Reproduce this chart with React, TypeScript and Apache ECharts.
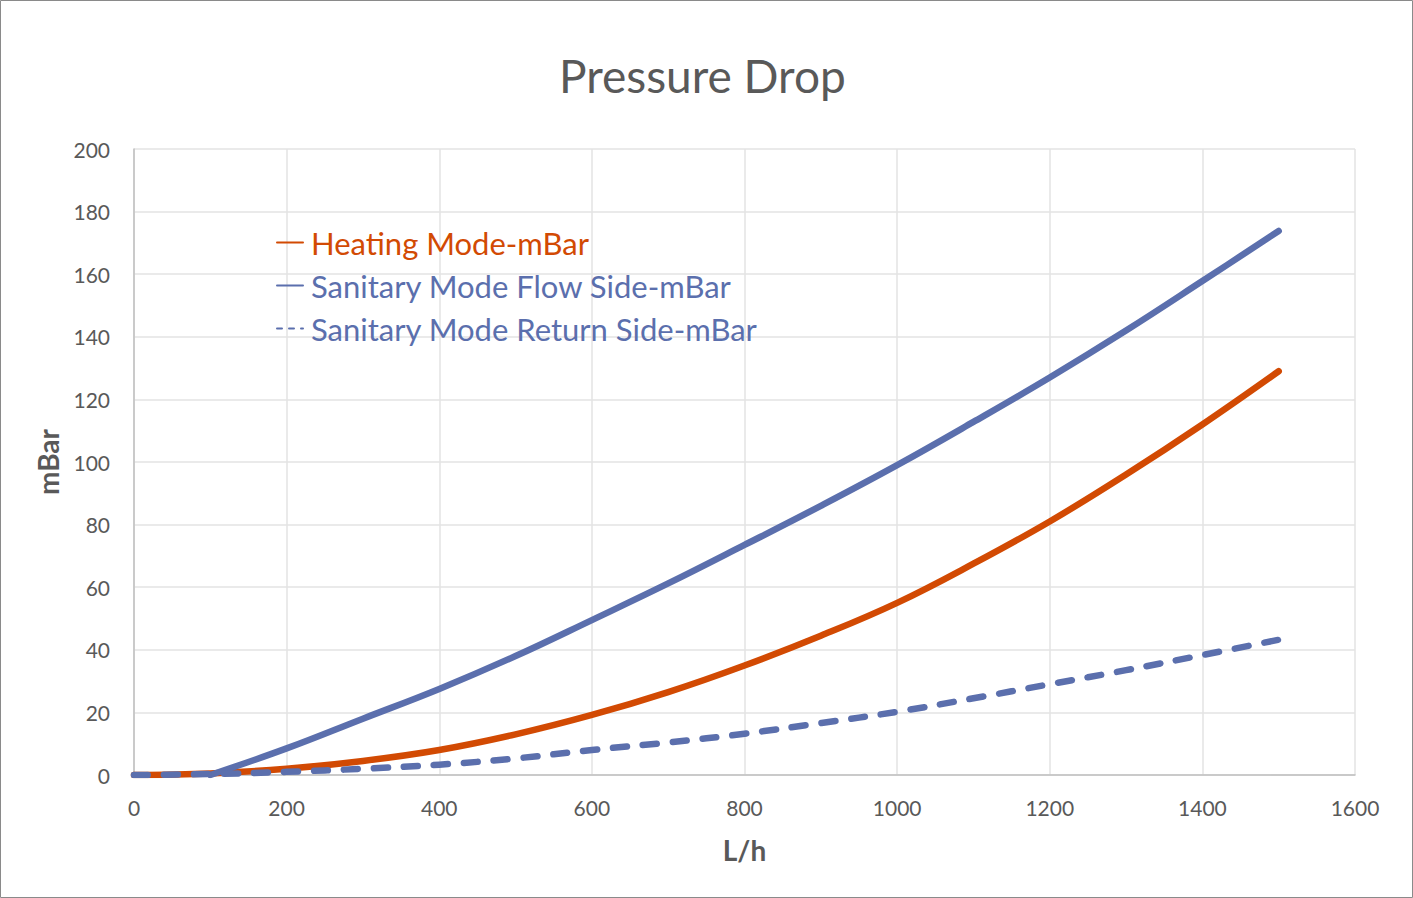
import React, { useEffect, useRef } from "react";
import * as echarts from "echarts";

// flow rate (L/h) and pressure drop (mBar) per series
const flowRates = [0, 100, 200, 300, 400, 500, 600, 700, 800, 900, 1000, 1100, 1200, 1300, 1400, 1500];
const heatingMode = [0, 0.5, 2, 4.5, 8, 13, 19.2, 26.5, 35, 44.5, 55, 67.5, 81, 96, 112, 129];
const flowSide = [null, 0, 8.5, 18, 27.5, 38, 49.5, 61.2, 73.5, 86, 99, 112.8, 127, 142, 157.8, 173.8];
const returnSide = [0, 0.3, 1, 2, 3.3, 5.3, 8, 10.4, 13.2, 16.6, 20.2, 24.5, 29, 33.5, 38.3, 43.2];

const seriesNames = [
  "Heating Mode-mBar",
  "Sanitary Mode Flow Side-mBar",
  "Sanitary Mode Return Side-mBar",
];

const ORANGE = "#d24a03";
const BLUE = "#5b6fad";
const GREY = "#595959";
const FONT = "Lato, 'Noto Sans', sans-serif";

const toPairs = (ys: (number | null)[]) =>
  flowRates.map((x, i) => [x, ys[i]]).filter((p) => p[1] !== null);

const PressureDrop: React.FC = () => {
  const chartRef = useRef<HTMLDivElement | null>(null);

  useEffect(() => {
    if (!chartRef.current) return;
    const chart = echarts.init(chartRef.current, null, { renderer: "svg" });

    const lineSeries = (name: string, ys: (number | null)[], color: string, dash?: number[]) => ({
      name,
      type: "line",
      data: toPairs(ys),
      smooth: 0.4,
      symbol: "none",
      color,
      lineStyle: { color, width: 6.5, type: dash || "solid", cap: "round", join: "round" },
    });

    const option = {
      animation: false,
      backgroundColor: "#ffffff",
      textStyle: { fontFamily: FONT },
      title: {
        text: "Pressure Drop",
        left: 554,
        top: 47,
        textStyle: { fontFamily: FONT, fontSize: 46, fontWeight: "normal", color: GREY },
      },
      legend: {
        orient: "vertical",
        left: 271,
        top: 222,
        itemWidth: 26,
        itemHeight: 14,
        itemGap: 12,
        itemStyle: { opacity: 0 },
        lineStyle: { width: 2 },
        textStyle: { fontFamily: FONT, fontSize: 31, padding: [0, 0, 0, 3] },
        data: [
          { name: seriesNames[0], textStyle: { color: ORANGE } },
          { name: seriesNames[1], textStyle: { color: BLUE } },
          {
            name: seriesNames[2],
            textStyle: { color: BLUE },
            lineStyle: { width: 2, type: [5, 7] },
          },
        ],
      },
      graphic: [
        {
          type: "rect",
          shape: { x: 0.5, y: 0.5, width: 1412, height: 897 },
          style: { fill: "none", stroke: "#8a8a8a", lineWidth: 1 },
          silent: true,
        },
      ],
      grid: { left: 134, right: 58, top: 149, bottom: 123 },
      xAxis: {
        type: "value",
        min: 0,
        max: 1600,
        interval: 200,
        name: "L/h",
        nameLocation: "middle",
        nameGap: 61,
        nameTextStyle: { fontFamily: FONT, fontSize: 28, fontWeight: "bold", color: GREY },
        axisLine: { show: true, lineStyle: { color: "#bfbfbf", width: 1.5 } },
        axisTick: { show: false },
        axisLabel: { color: GREY, fontSize: 21, fontFamily: FONT, margin: 22, formatter: (v: number) => String(v) },
        splitLine: { show: true, lineStyle: { color: "#e3e3e3", width: 1.5 } },
      },
      yAxis: {
        type: "value",
        min: 0,
        max: 200,
        interval: 20,
        name: "mBar",
        nameLocation: "middle",
        nameGap: 72,
        nameTextStyle: { fontFamily: FONT, fontSize: 28, fontWeight: "bold", color: GREY },
        axisLine: { show: true, lineStyle: { color: "#bfbfbf", width: 1.5 } },
        axisTick: { show: false },
        axisLabel: { color: GREY, fontSize: 21, fontFamily: FONT, margin: 24, formatter: (v: number) => String(v) },
        splitLine: { show: true, lineStyle: { color: "#e3e3e3", width: 1.5 } },
      },
      series: [
        lineSeries(seriesNames[0], heatingMode, ORANGE),
        lineSeries(seriesNames[1], flowSide, BLUE),
        lineSeries(seriesNames[2], returnSide, BLUE, [14, 16]),
      ],
    };

    chart.setOption(option);
    return () => {
      chart.dispose();
    };
  }, []);

  return (
    <div
      ref={chartRef}
      style={{ position: "absolute", left: 0, top: 0, width: "1413px", height: "898px" }}
    />
  );
};

export default PressureDrop;
